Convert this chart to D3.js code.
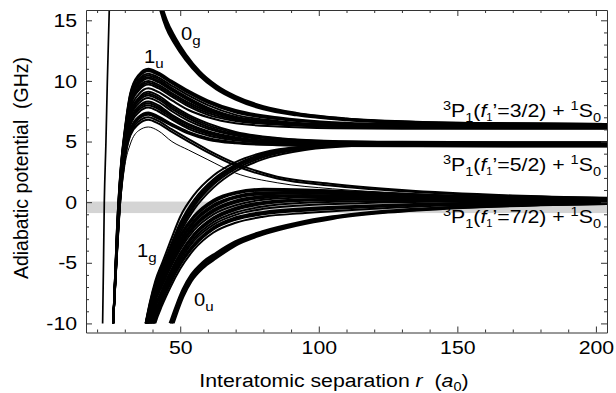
<!DOCTYPE html>
<html>
<head>
<meta charset="utf-8">
<script src="https://cdn.jsdelivr.net/npm/d3@7"></script>
<style>
  body { margin: 0; background: #fff; }
  svg { display: block; font-family: "Liberation Sans", Arial, sans-serif; }
  text { white-space: pre; }
</style>
</head>
<body>
<div id="chart"></div>
<script>
// axis ticks
const xMajorTicks = [50, 100, 150, 200];
const yMajorTicks = [15, 10, 5, 0, -5, -10];

// grey band marking the 7/2 threshold (GHz)
const bandRange = [0.05, -0.9];

// steep inner wall, single curve: [r, E]
const wallCurve = [[21.4, -12], [22.0, -10], [22.6, 0], [23.2, 5], [23.7, 10], [24.4, 15.9], [24.7, 18]];

// 1u family: E (GHz) at each r of r1u
const r1u = [25.8, 27.2, 28.5, 30, 32, 35, 38.5, 42, 47, 53, 60, 70, 85, 105, 130, 170, 205];
const curves1u = [
  [-10, -2.0, 2.8, 6.0, 9.0, 10.5, 11.0, 10.7, 10.0, 9.2, 8.4, 7.6, 7.0, 6.6, 6.45, 6.4, 6.35],
  [-10, -2.1, 2.7, 5.9, 8.9, 10.4, 10.9, 10.6, 9.9, 9.1, 8.3, 7.5, 6.9, 6.55, 6.4, 6.35, 6.32],
  [-10, -2.2, 2.6, 5.8, 8.8, 10.3, 10.8, 10.5, 9.8, 9.0, 8.2, 7.4, 6.85, 6.5, 6.35, 6.3, 6.3],
  [-10, -2.4, 2.5, 5.7, 8.6, 10.1, 10.6, 10.3, 9.6, 8.8, 8.0, 7.2, 6.7, 6.4, 6.3, 6.25, 6.25],
  [-10, -2.5, 2.4, 5.6, 8.5, 9.95, 10.45, 10.15, 9.4, 8.6, 7.8, 7.05, 6.6, 6.35, 6.25, 6.2, 6.2],
  [-10, -2.6, 2.3, 5.5, 8.4, 9.85, 10.3, 10.0, 9.3, 8.5, 7.7, 7.0, 6.55, 6.3, 6.22, 6.18, 6.18],
  [-10, -2.7, 2.2, 5.4, 8.3, 9.7, 10.2, 9.9, 9.2, 8.4, 7.6, 6.9, 6.5, 6.3, 6.2, 6.15, 6.15],
  [-10, -2.8, 2.1, 5.3, 8.1, 9.5, 10.0, 9.7, 9.0, 8.2, 7.5, 6.95, 6.6, 6.4, 6.3, 6.3, 6.3],
  [-10, -2.9, 2.0, 5.2, 8.0, 9.35, 9.85, 9.55, 8.85, 8.05, 7.35, 6.8, 6.45, 6.25, 6.15, 6.12, 6.12],
  [-10, -3.0, 1.9, 5.1, 7.9, 9.2, 9.7, 9.4, 8.7, 7.9, 7.2, 6.7, 6.4, 6.2, 6.12, 6.1, 6.1],
  [-10, -3.2, 1.7, 4.9, 7.6, 8.9, 9.4, 9.1, 8.4, 7.6, 7.0, 6.5, 6.25, 6.1, 6.05, 6.05, 6.05],
  [-10, -3.3, 1.6, 4.7, 7.4, 8.6, 9.1, 8.8, 8.0, 7.2, 6.5, 5.8, 5.3, 5.05, 4.98, 4.95, 4.95],
  [-10, -3.35, 1.55, 4.65, 7.25, 8.5, 8.95, 8.65, 7.85, 7.05, 6.35, 5.7, 5.25, 5.02, 4.95, 4.92, 4.92],
  [-10, -3.4, 1.5, 4.6, 7.1, 8.35, 8.8, 8.5, 7.7, 6.9, 6.2, 5.6, 5.2, 5.0, 4.93, 4.9, 4.9],
  [-10, -3.5, 1.4, 4.5, 7.0, 8.15, 8.6, 8.3, 7.5, 6.7, 6.05, 5.5, 5.1, 4.95, 4.88, 4.85, 4.85],
  [-10, -3.6, 1.3, 4.3, 6.8, 7.9, 8.3, 8.0, 7.2, 6.45, 5.85, 5.35, 5.0, 4.88, 4.82, 4.8, 4.8],
  [-10, -3.65, 1.25, 4.25, 6.65, 7.75, 8.15, 7.85, 7.1, 6.35, 5.75, 5.28, 4.96, 4.85, 4.8, 4.78, 4.78],
  [-10, -3.7, 1.2, 4.2, 6.5, 7.6, 8.0, 7.7, 6.95, 6.2, 5.65, 5.2, 4.92, 4.82, 4.77, 4.75, 4.75],
  [-10, -3.8, 1.1, 4.1, 6.35, 7.4, 7.8, 7.5, 6.8, 6.05, 5.5, 5.1, 4.85, 4.76, 4.72, 4.7, 4.7],
  [-10, -3.9, 0.9, 3.9, 6.0, 7.05, 7.4, 7.1, 6.45, 5.8, 5.3, 4.95, 4.78, 4.7, 4.66, 4.65, 4.65],
  [-10, -3.95, 0.85, 3.85, 5.9, 6.95, 7.3, 7.0, 6.4, 5.75, 5.22, 4.9, 4.74, 4.67, 4.63, 4.62, 4.62],
  [-10, -4.0, 0.8, 3.8, 5.85, 6.85, 7.2, 6.9, 6.3, 5.65, 5.15, 4.85, 4.7, 4.64, 4.61, 4.6, 4.6],
  [-10, -4.1, 0.6, 3.6, 5.65, 6.65, 7.0, 6.7, 6.0, 5.2, 4.3, 3.2, 2.1, 1.5, 1.0, 0.55, 0.35],
  [-10, -4.2, 0.5, 3.5, 5.5, 6.45, 6.8, 6.5, 5.8, 5.0, 4.1, 3.0, 1.95, 1.35, 0.9, 0.5, 0.32],
  [-10, -4.5, 0.0, 3.0, 4.8, 5.9, 6.2, 5.9, 5.0, 4.3, 3.5, 2.4, 1.6, 1.1, 0.75, 0.42, 0.3]
];

// 0g family
const r0g = [41.5, 43, 45, 48, 52, 57, 63, 70, 80, 92, 110, 135, 170, 205];
const curves0g = [
  [17.2, 15.8, 14.4, 13.1, 11.75, 10.45, 9.35, 8.5, 7.7, 7.2, 6.8, 6.55, 6.45, 6.4],
  [17.5, 16.1, 14.7, 13.35, 11.95, 10.6, 9.5, 8.6, 7.8, 7.27, 6.84, 6.57, 6.45, 6.4],
  [17.8, 16.4, 15.0, 13.6, 12.15, 10.75, 9.6, 8.7, 7.88, 7.32, 6.87, 6.6, 6.46, 6.4]
];

// 1g family
const r1g = [37.5, 39, 41, 43.5, 46.5, 50, 55, 62, 70, 80, 95, 115, 140, 175, 205];
const curves1g = [
  [-10, -8.3, -6.5, -5.0, -3.2, -1.2, 0.6, 2.2, 3.3, 4.1, 4.6, 4.82, 4.88, 4.9, 4.9],
  [-10, -8.4, -6.7, -5.3, -3.6, -1.7, 0.2, 1.9, 3.1, 4.0, 4.55, 4.78, 4.85, 4.85, 4.85],
  [-10.1, -8.5, -6.8, -5.4, -3.75, -1.9, 0.0, 1.75, 3.0, 3.9, 4.5, 4.75, 4.82, 4.83, 4.83],
  [-10, -8.6, -6.9, -5.5, -3.9, -2.1, -0.2, 1.6, 2.9, 3.8, 4.45, 4.72, 4.8, 4.8, 4.8],
  [-10.2, -8.7, -7.0, -5.6, -4.0, -2.25, -0.35, 1.45, 2.75, 3.7, 4.4, 4.7, 4.78, 4.78, 4.78],
  [-10.3, -8.9, -7.2, -5.8, -4.2, -2.5, -0.6, 1.2, 2.55, 3.55, 4.3, 4.65, 4.75, 4.76, 4.76],
  [-10.3, -8.8, -7.0, -5.7, -4.2, -2.7, -1.1, 0.2, 0.85, 1.1, 1.05, 0.85, 0.6, 0.4, 0.28],
  [-10.4, -8.9, -7.1, -5.8, -4.3, -2.8, -1.2, 0.1, 0.78, 1.02, 1.0, 0.82, 0.58, 0.38, 0.27],
  [-10.5, -9.0, -7.2, -5.9, -4.4, -2.9, -1.3, 0.0, 0.7, 0.95, 0.95, 0.78, 0.55, 0.37, 0.26],
  [-10.7, -9.2, -7.4, -6.1, -4.6, -3.1, -1.5, -0.2, 0.5, 0.8, 0.85, 0.7, 0.5, 0.34, 0.24],
  [-10.8, -9.3, -7.5, -6.2, -4.7, -3.2, -1.6, -0.3, 0.42, 0.72, 0.78, 0.66, 0.48, 0.32, 0.23],
  [-10.9, -9.4, -7.6, -6.3, -4.8, -3.3, -1.7, -0.4, 0.35, 0.65, 0.72, 0.62, 0.45, 0.3, 0.22],
  [-11.1, -9.6, -7.8, -6.5, -5.0, -3.5, -1.9, -0.6, 0.15, 0.5, 0.6, 0.55, 0.4, 0.27, 0.2],
  [-11.2, -9.7, -7.9, -6.6, -5.1, -3.6, -2.0, -0.7, 0.05, 0.42, 0.55, 0.5, 0.37, 0.25, 0.19],
  [-11.3, -9.8, -8.0, -6.7, -5.2, -3.7, -2.1, -0.8, -0.05, 0.35, 0.5, 0.47, 0.35, 0.24, 0.18],
  [-11.5, -10.0, -8.2, -6.9, -5.4, -3.9, -2.3, -1.0, -0.25, 0.2, 0.38, 0.4, 0.3, 0.21, 0.16],
  [-11.8, -10.3, -8.5, -7.2, -5.7, -4.2, -2.6, -1.25, -0.45, 0.02, 0.25, 0.3, 0.25, 0.18, 0.14],
  [-11.9, -10.4, -8.6, -7.3, -5.8, -4.3, -2.7, -1.35, -0.55, -0.06, 0.18, 0.25, 0.22, 0.16, 0.13],
  [-12.0, -10.5, -8.7, -7.4, -5.9, -4.4, -2.8, -1.45, -0.65, -0.15, 0.12, 0.2, 0.2, 0.15, 0.12],
  [-12.3, -10.8, -9.0, -7.6, -6.1, -4.6, -3.0, -1.65, -0.85, -0.35, -0.05, 0.08, 0.12, 0.11, 0.1],
  [-12.6, -11.0, -9.2, -7.8, -6.3, -4.8, -3.2, -1.85, -1.05, -0.55, -0.25, -0.08, 0.03, 0.06, 0.07],
  [-12.9, -11.3, -9.4, -8.0, -6.5, -5.0, -3.45, -2.05, -1.25, -0.8, -0.5, -0.3, -0.12, -0.02, 0.03],
  [-13.0, -11.4, -9.5, -8.1, -6.6, -5.1, -3.55, -2.15, -1.35, -0.9, -0.6, -0.38, -0.17, -0.05, 0.01],
  [-13.2, -11.6, -9.7, -8.2, -6.7, -5.2, -3.65, -2.25, -1.45, -1.0, -0.7, -0.45, -0.22, -0.08, 0.0],
  [-13.5, -11.9, -10.0, -8.5, -7.0, -5.5, -3.9, -2.5, -1.7, -1.2, -0.9, -0.6, -0.32, -0.13, -0.04]
];

// 0u family
const r0u = [46.3, 48.5, 51, 54, 58, 63, 70, 80, 92, 105, 125, 150, 180, 205];
const curves0u = [
  [-10, -8.6, -7.2, -6.0, -5.0, -4.2, -3.25, -2.4, -1.72, -1.2, -0.72, -0.4, -0.19, -0.1],
  [-10.4, -8.9, -7.5, -6.25, -5.2, -4.4, -3.4, -2.52, -1.82, -1.28, -0.78, -0.43, -0.21, -0.11],
  [-10.8, -9.3, -7.8, -6.5, -5.45, -4.6, -3.55, -2.65, -1.92, -1.35, -0.83, -0.46, -0.23, -0.12]
];

const W = 616, H = 393;
const plot = {left: 86, right: 607, top: 10, bottom: 332.5};
const fontSize = 19;
const stretch = 'scale(1.12,1)';

const x = d3.scaleLinear().domain([16, 204]).range([plot.left, plot.right]);
const y = d3.scaleLinear().domain([-10.75, 15.85]).range([plot.bottom, plot.top]);

const svg = d3.select('#chart').append('svg')
  .attr('width', W).attr('height', H);

// curves stop at -10 GHz
svg.append('clipPath').attr('id', 'clip')
  .append('rect')
  .attr('x', plot.left).attr('y', plot.top)
  .attr('width', plot.right - plot.left)
  .attr('height', y(-10) - plot.top);

svg.append('rect')
  .attr('x', plot.left).attr('width', plot.right - plot.left)
  .attr('y', y(bandRange[0])).attr('height', y(bandRange[1]) - y(bandRange[0]))
  .attr('fill', '#d4d4d4');

const line = d3.line()
  .x(d => x(d[0]))
  .y(d => y(d[1]))
  .curve(d3.curveMonotoneX);

const toPoints = (grid, row) => grid.map((r, i) => [r, row[i]]);

const g = svg.append('g').attr('clip-path', 'url(#clip)')
  .attr('fill', 'none').attr('stroke', '#000');

function drawFamily(grid, rows, width) {
  g.selectAll(null)
    .data(rows)
    .enter()
    .append('path')
    .attr('d', row => line(toPoints(grid, row)))
    .attr('stroke-width', width);
}

g.append('path').attr('d', line(wallCurve)).attr('stroke-width', 1.7);
// lowest 1u curve is drawn thin, as in the original
drawFamily(r1u, curves1u, (d, i) => i === curves1u.length - 1 ? 1 : 2);
drawFamily(r0g, curves0g, 3);
drawFamily(r1g, curves1g, 2);
drawFamily(r0u, curves0u, 2.8);

// frame and ticks (all inward)
const axisColor = '#333';
const minorX = d3.range(20, 201, 10).filter(v => !xMajorTicks.includes(v));
const minorY = d3.range(-10, 16, 1).filter(v => !yMajorTicks.includes(v));

function addAxis(axisFn, scale, pos, major, minor, labels) {
  const ga = svg.append('g').attr('transform', pos);
  ga.call(axisFn(scale).tickValues(major).tickSize(-6).tickSizeOuter(0)
    .tickFormat(labels ? d => String(d) : ''));
  ga.append('g').call(axisFn(scale).tickValues(minor).tickSize(-3).tickSizeOuter(0).tickFormat(''))
    .select('.domain').remove();
  ga.selectAll('line, path').attr('stroke', axisColor);
  ga.selectAll('text').attr('font-size', fontSize).attr('fill', '#000')
    .attr('font-family', '"Liberation Sans", Arial, sans-serif')
    .attr('transform', stretch);
  return ga;
}

const bottom = addAxis(d3.axisBottom, x, `translate(0,${plot.bottom})`, xMajorTicks, minorX, true);
bottom.selectAll('.tick text').attr('dy', null).attr('y', 22);
addAxis(d3.axisTop, x, `translate(0,${plot.top})`, xMajorTicks, minorX, false);
const left = addAxis(d3.axisLeft, y, `translate(${plot.left},0)`, yMajorTicks, minorY, true);
left.selectAll('.tick text').attr('x', -8);
addAxis(d3.axisRight, y, `translate(${plot.right},0)`, yMajorTicks, minorY, false);

// axis titles
svg.append('text')
  .attr('transform', 'translate(28,168) rotate(-90)')
  .attr('text-anchor', 'middle').attr('font-size', fontSize + 0.5)
  .text('Adiabatic potential  (GHz)');

const xt = svg.append('text')
  .attr('transform', `translate(334,387) ${stretch}`)
  .attr('text-anchor', 'middle').attr('font-size', fontSize);
xt.append('tspan').text('Interatomic separation ');
xt.append('tspan').attr('font-style', 'italic').text('r');
xt.append('tspan').text('  (');
xt.append('tspan').attr('font-style', 'italic').text('a');
xt.append('tspan').attr('font-size', 13).attr('dy', 4).text('0');
xt.append('tspan').attr('dy', -4).text(')');

// state labels
function stateLabel(px, py, main, sub) {
  const t = svg.append('text').attr('transform', `translate(${px},${py}) ${stretch}`)
    .attr('font-size', 18);
  t.append('tspan').text(main);
  t.append('tspan').attr('font-size', 13.5).attr('dy', 5).text(sub);
}
stateLabel(181, 40, '0', 'g');
stateLabel(144, 63, '1', 'u');
stateLabel(137, 257, '1', 'g');
stateLabel(194, 306, '0', 'u');

// asymptote labels
const thresholds = ['3/2', '5/2', '7/2'];
const thresholdY = [117, 171, 223];
thresholds.forEach((f, i) => {
  const t = svg.append('text')
    .attr('transform', `translate(601,${thresholdY[i]}) ${stretch}`)
    .attr('text-anchor', 'end').attr('font-size', fontSize);
  t.append('tspan').attr('font-size', 13).attr('dy', -7).text('3');
  t.append('tspan').attr('dy', 7).text('P');
  t.append('tspan').attr('font-size', 13).attr('dy', 5).text('1');
  t.append('tspan').attr('dy', -5).text('(');
  t.append('tspan').attr('font-style', 'italic').text('f');
  t.append('tspan').attr('font-size', 10).attr('dy', 4).text('1');
  t.append('tspan').attr('dy', -4).text('\u2019=' + f + ') + ');
  t.append('tspan').attr('font-size', 13).attr('dy', -7).text('1');
  t.append('tspan').attr('dy', 7).text('S');
  t.append('tspan').attr('font-size', 13).attr('dy', 5).text('0');
});
</script>
</body>
</html>
